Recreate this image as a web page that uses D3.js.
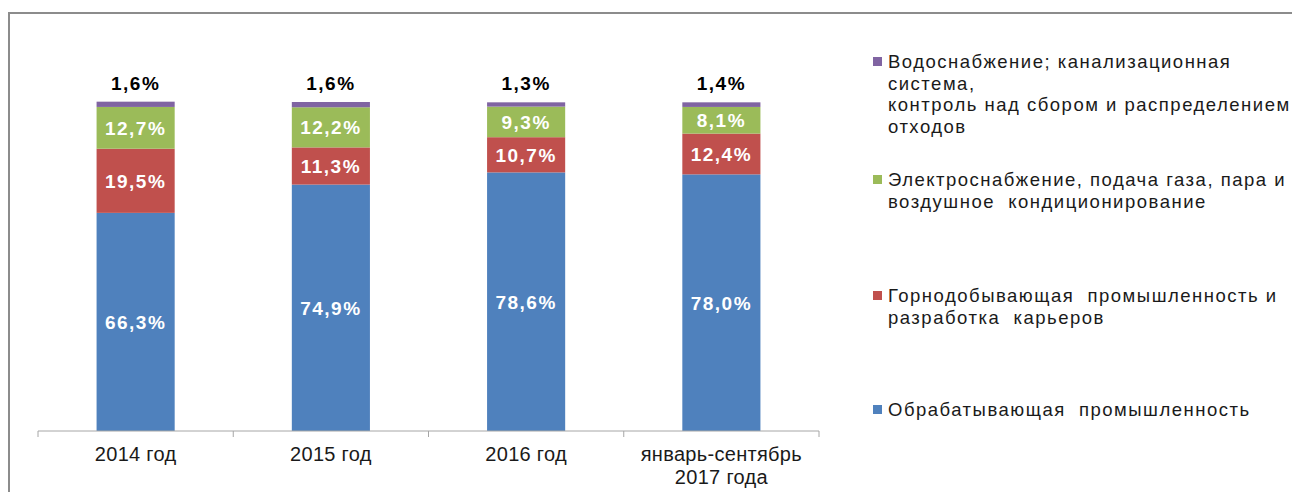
<!DOCTYPE html>
<html>
<head>
<meta charset="utf-8">
<script src="https://cdn.jsdelivr.net/npm/d3@7"></script>
<style>
  body { margin: 0; background: #fff; }
  svg { display: block; font-family: "Liberation Sans", Arial, sans-serif; }
</style>
</head>
<body>
<script>
// data
const categories = ['2014 год', '2015 год', '2016 год', 'январь-сентябрь\n2017 года'];
const seriesNames = [
  'Обрабатывающая  промышленность',
  'Горнодобывающая  промышленность и\nразработка  карьеров',
  'Электроснабжение, подача газа, пара и\nвоздушное  кондиционирование',
  'Водоснабжение; канализационная\nсистема,\nконтроль над сбором и распределением\nотходов'
];
const manufacturing = [66.3, 74.9, 78.6, 78.0];
const mining = [19.5, 11.3, 10.7, 12.4];
const electricity = [12.7, 12.2, 9.3, 8.1];
const water = [1.6, 1.6, 1.3, 1.4];
const colors = ['#4F81BD', '#C0504D', '#9BBB59', '#8064A2'];

const W = 1292, H = 492;
const svg = d3.select('body').append('svg')
    .attr('width', W)
    .attr('height', H);

// chart frame (runs off the right and bottom edge)
svg.append('rect')
    .attr('x', 9).attr('y', 13)
    .attr('width', W + 20).attr('height', H + 20)
    .attr('fill', 'none')
    .attr('stroke', '#8c8c8c')
    .attr('stroke-width', 2);

const x = d3.scaleBand()
    .domain(categories)
    .range([38, 819])
    .paddingInner(0.6)
    .paddingOuter(0.3);

const y = d3.scaleLinear()
    .domain([0, 100])
    .range([431, 102]);

const rows = categories.map((c, i) => ({
  cat: c, s0: manufacturing[i], s1: mining[i], s2: electricity[i], s3: water[i]
}));
const stack = d3.stack().keys(['s0', 's1', 's2', 's3'])(rows);

const layers = svg.append('g').selectAll('g')
    .data(stack)
    .join('g')
    .attr('fill', (d, i) => colors[i]);

layers.selectAll('rect')
    .data(d => d)
    .join('rect')
    .attr('x', d => x(d.data.cat))
    .attr('y', d => y(d[1]))
    .attr('width', x.bandwidth())
    .attr('height', d => y(d[0]) - y(d[1]));

const fmt = v => d3.format('.1f')(v).replace('.', ',') + '%';

// labels inside the three lower segments
stack.slice(0, 3).forEach(layer => {
  svg.append('g').selectAll('text')
      .data(layer)
      .join('text')
      .attr('x', d => x(d.data.cat) + x.bandwidth() / 2)
      .attr('y', d => (y(d[0]) + y(d[1])) / 2)
      .attr('dy', '0.36em')
      .attr('text-anchor', 'middle')
      .attr('fill', '#fff')
      .attr('font-weight', 'bold')
      .attr('font-size', 19)
      .attr('letter-spacing', 1.5)
      .text(d => fmt(d[1] - d[0]));
});

// the thin top segment is labelled above the bar
svg.append('g').selectAll('text')
    .data(stack[3])
    .join('text')
    .attr('x', d => x(d.data.cat) + x.bandwidth() / 2)
    .attr('y', d => y(d[1]) - 12)
    .attr('text-anchor', 'middle')
    .attr('fill', '#000')
    .attr('font-weight', 'bold')
    .attr('font-size', 19)
    .attr('letter-spacing', 1.5)
    .text(d => fmt(d[1] - d[0]));

// x axis: line plus ticks at band boundaries
const axis = svg.append('g').attr('transform', 'translate(0,431)');
axis.append('line')
    .attr('x1', x.range()[0]).attr('x2', x.range()[1])
    .attr('stroke', '#a6a6a6');
const edges = d3.range(categories.length + 1).map(i => x.range()[0] + i * x.step());
axis.selectAll('.edge')
    .data(edges)
    .join('line')
    .attr('x1', d => d).attr('x2', d => d)
    .attr('y1', 0).attr('y2', 6)
    .attr('stroke', '#a6a6a6');

axis.selectAll('.lab')
    .data(categories)
    .join('text')
    .attr('text-anchor', 'middle')
    .attr('fill', '#1a1a1a')
    .attr('font-size', 20)
    .attr('letter-spacing', 0.3)
    .each(function (d) {
      d3.select(this).selectAll('tspan')
          .data(d.split('\n'))
          .join('tspan')
          .attr('x', x(d) + x.bandwidth() / 2)
          .attr('y', (t, j) => 30 + j * 23)
          .text(t => t);
    });

// legend, top entry first
const legendY = [410, 296, 180, 62];
const legend = svg.append('g').selectAll('g')
    .data(seriesNames)
    .join('g')
    .attr('transform', (d, i) => `translate(876,${legendY[i]})`);

legend.append('rect')
    .attr('x', -3).attr('y', -5)
    .attr('width', 9).attr('height', 9)
    .attr('fill', (d, i) => colors[i]);

legend.append('text')
    .attr('fill', '#1a1a1a')
    .attr('font-size', 18.5)
    .attr('letter-spacing', 1.5)
    .style('white-space', 'pre')
    .each(function (d) {
      d3.select(this).selectAll('tspan')
          .data(d.split('\n'))
          .join('tspan')
          .attr('x', 12)
          .attr('y', (t, j) => 6 + j * 21.7)
          .text(t => t);
    });
</script>
</body>
</html>
